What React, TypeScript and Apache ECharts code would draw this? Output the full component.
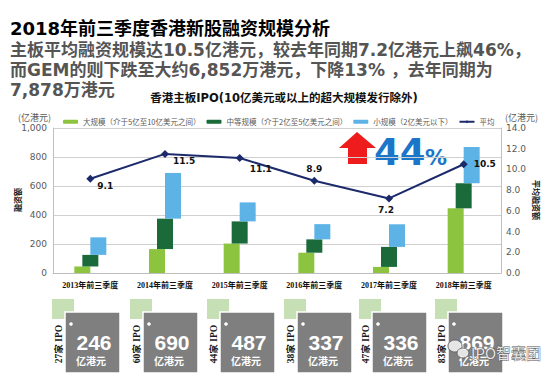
import React, { useEffect, useRef } from "react";
import * as echarts from "echarts";

const categories = ["2013年前三季度", "2014年前三季度", "2015年前三季度", "2016年前三季度", "2017年前三季度", "2018年前三季度"];
const largeValues = [45, 165, 203, 140, 42, 446];
const mediumValues = [80, 210, 153, 92, 138, 173];
const smallValues = [121, 315, 131, 105, 156, 250];
const averageValues = [9.1, 11.5, 11.1, 8.9, 7.2, 10.5];
const ipoCounts = [27, 60, 44, 38, 47, 83];
const totals = [246, 690, 487, 337, 336, 869];
const leftAxis = { min: 0, max: 1000, interval: 200 };
const rightAxis = { min: 0, max: 14, interval: 2 };

const legendNames = ["大规模（介于5亿至10亿美元之间）", "中等规模（介于2亿至5亿美元之间）", "小规模（2亿美元以下）", "平均"];

const boxLefts = [65, 143, 220, 297, 372, 448];

const labelCfg = [
  { position: "right", distance: 3, offset: [0, 7] },
  { position: "right", distance: 4, offset: [0, 7] },
  { position: "right", distance: 6, offset: [0, 11] },
  { position: "top", distance: 3, offset: [0, 0] },
  { position: "bottom", distance: 3, offset: [-3, 0] },
  { position: "right", distance: 6, offset: [0, 0] },
];

export default function App() {
  const ref = useRef<HTMLDivElement>(null);
  useEffect(() => {
    if (!ref.current) return;
    const chart = echarts.init(ref.current, null, { renderer: "svg" });
    const sf = "'DejaVu Sans', 'Noto Sans CJK SC', sans-serif";
    const cjk = "'Noto Sans CJK SC', sans-serif";
    const mediumBase = largeValues.slice();
    const smallBase = largeValues.map((v, i) => v + mediumValues[i]);

    const boxes: any[] = [];
    boxLefts.forEach((x, i) => {
      boxes.push({ type: "rect", shape: { x: x - 13, y: 299, width: 22, height: 20 }, style: { fill: "#c6dfb4" } });
      boxes.push({ type: "rect", shape: { x, y: 312, width: 55, height: 61 }, style: { fill: "#7f7f7f", stroke: "#ffffff", lineWidth: 1.5 } });
      boxes.push({ type: "circle", shape: { cx: x + 6, cy: 324, r: 1.8 }, style: { fill: "#ffffff" } });
      boxes.push({ type: "text", x: x + 29, y: 342, style: { text: String(totals[i]), fill: "#ffffff", font: "bold 21px 'Liberation Sans', Arial, sans-serif", align: "center", verticalAlign: "middle" } });
      boxes.push({ type: "text", x: x + 26, y: 360, style: { text: "亿港元", fill: "#ffffff", font: "bold 10px " + cjk, align: "center", verticalAlign: "middle" } });
      boxes.push({ type: "text", x: x - 6, y: 344, rotation: Math.PI / 2, style: { text: ipoCounts[i] + "家 IPO", fill: "#1a1a1a", font: "bold 9.5px 'Liberation Serif', 'Noto Sans CJK SC', serif", align: "center", verticalAlign: "middle" } });
    });

    chart.setOption({
      animation: false,
      backgroundColor: "#ffffff",
      grid: { left: 53, right: 49, top: 128, bottom: 104 },
      legend: {
        data: legendNames,
        left: 58,
        top: 113,
        itemWidth: 15,
        itemHeight: 4,
        itemGap: 6,
        selectedMode: false,
        textStyle: { fontSize: 7.5, color: "#595959", fontFamily: cjk },
      },
      xAxis: {
        type: "category",
        data: categories,
        axisLine: { lineStyle: { color: "#bfbfbf" } },
        axisTick: { show: false },
        axisLabel: { color: "#111", fontSize: 8, fontWeight: "bold", fontFamily: "'Liberation Serif', 'Noto Sans CJK SC', serif", margin: 8, interval: 0 },
      },
      yAxis: [
        {
          type: "value",
          ...leftAxis,
          axisLine: { show: true, lineStyle: { color: "#bfbfbf" } },
          axisTick: { show: false },
          axisLabel: { color: "#595959", fontSize: 9, fontFamily: sf, margin: 6, formatter: (v: number) => v.toLocaleString("en-US") },
          splitLine: { lineStyle: { color: "#d0d0d0" } },
        },
        {
          type: "value",
          ...rightAxis,
          axisLine: { show: true, lineStyle: { color: "#bfbfbf" } },
          axisTick: { show: false },
          axisLabel: { color: "#595959", fontSize: 9, fontFamily: sf, margin: 5, formatter: (v: number) => v.toFixed(1) },
          splitLine: { show: false },
        },
      ],
      series: [
        { name: legendNames[0], type: "bar", stack: "L", barWidth: 16, barGap: "-50%", data: largeValues, itemStyle: { color: "#8cc43f" } },
        { name: "baseM", type: "bar", stack: "M", barWidth: 16, barGap: "-50%", data: mediumBase, itemStyle: { color: "transparent" }, silent: true },
        { name: legendNames[1], type: "bar", stack: "M", barWidth: 16, barGap: "-50%", data: mediumValues, itemStyle: { color: "#1a6b39" } },
        { name: "baseS", type: "bar", stack: "S", barWidth: 16, barGap: "-50%", data: smallBase, itemStyle: { color: "transparent" }, silent: true },
        { name: legendNames[2], type: "bar", stack: "S", barWidth: 16, barGap: "-50%", data: smallValues, itemStyle: { color: "#5db3e6" } },
        {
          name: legendNames[3],
          type: "line",
          yAxisIndex: 1,
          symbol: "diamond",
          symbolSize: 8,
          lineStyle: { color: "#1c2a6b", width: 2 },
          itemStyle: { color: "#1c2a6b" },
          data: averageValues.map((v, i) => ({
            value: v,
            label: {
              show: true,
              position: labelCfg[i].position,
              distance: labelCfg[i].distance,
              offset: labelCfg[i].offset,
              formatter: (p: any) => Number(p.value).toFixed(1),
              fontSize: 9,
              fontWeight: "bold",
              fontFamily: sf,
              color: "#111",
            },
          })),
        },
      ],
      graphic: [
        { type: "text", x: 10, y: 28, style: { text: "2018年前三季度香港新股融资规模分析", font: "bold 18px " + sf, fill: "#000", verticalAlign: "middle" } },
        { type: "text", x: 10, y: 50, style: { text: "主板平均融资规模达10.5亿港元，较去年同期7.2亿港元上飙46%，", font: "bold 17px " + sf, fill: "#555555", verticalAlign: "middle" } },
        { type: "text", x: 10, y: 70, style: { text: "而GEM的则下跌至大约6,852万港元，下降13% ，去年同期为", font: "bold 17px " + sf, fill: "#555555", verticalAlign: "middle" } },
        { type: "text", x: 10, y: 90, style: { text: "7,878万港元", font: "bold 17px " + sf, fill: "#555555", verticalAlign: "middle" } },
        { type: "text", x: 284, y: 98, style: { text: "香港主板IPO(10亿美元或以上的超大规模发行除外)", font: "bold 11.5px " + sf, fill: "#111", align: "center", verticalAlign: "middle" } },
        { type: "text", x: 18, y: 117, style: { text: "(亿港元)", font: "9px " + cjk, fill: "#595959", verticalAlign: "middle" } },
        { type: "text", x: 505, y: 117, style: { text: "(亿港元)", font: "9px " + cjk, fill: "#595959", verticalAlign: "middle" } },
        { type: "text", x: 17, y: 200, rotation: Math.PI / 2, style: { text: "融资额", font: "bold 8px " + cjk, fill: "#111", align: "center", verticalAlign: "middle" } },
        { type: "text", x: 536, y: 200, rotation: -Math.PI / 2, style: { text: "平均融资额", font: "bold 8px " + cjk, fill: "#111", align: "center", verticalAlign: "middle" } },
        { type: "polygon", shape: { points: [[357, 132], [376, 148], [367, 148], [367, 164], [348, 164], [348, 148], [339, 148]] }, style: { fill: "#ee1c1c" } },
        { type: "text", x: 374, y: 152, style: { text: "44", font: "bold 37px 'DejaVu Sans', sans-serif", fill: "#1b75c9", verticalAlign: "middle" } },
        { type: "text", x: 425, y: 157, style: { text: "%", font: "bold 22px 'DejaVu Sans', sans-serif", fill: "#1b75c9", verticalAlign: "middle" } },
        ...boxes,
        { type: "ellipse", shape: { cx: 455, cy: 346, rx: 7, ry: 6 }, style: { fill: "rgba(255,255,255,0.8)", stroke: "#666", lineWidth: 1 } },
        { type: "ellipse", shape: { cx: 463, cy: 353, rx: 6, ry: 5 }, style: { fill: "rgba(255,255,255,0.8)", stroke: "#666", lineWidth: 1 } },
        { type: "text", x: 471, y: 352, style: { text: "IPO智囊团", font: "15px " + cjk, fill: "rgba(255,255,255,0.85)", stroke: "#555", lineWidth: 0.8, verticalAlign: "middle" } },
      ],
    });
    return () => chart.dispose();
  }, []);
  return <div ref={ref} style={{ position: "fixed", left: 0, top: 0, width: 550, height: 377 }} />;
}
